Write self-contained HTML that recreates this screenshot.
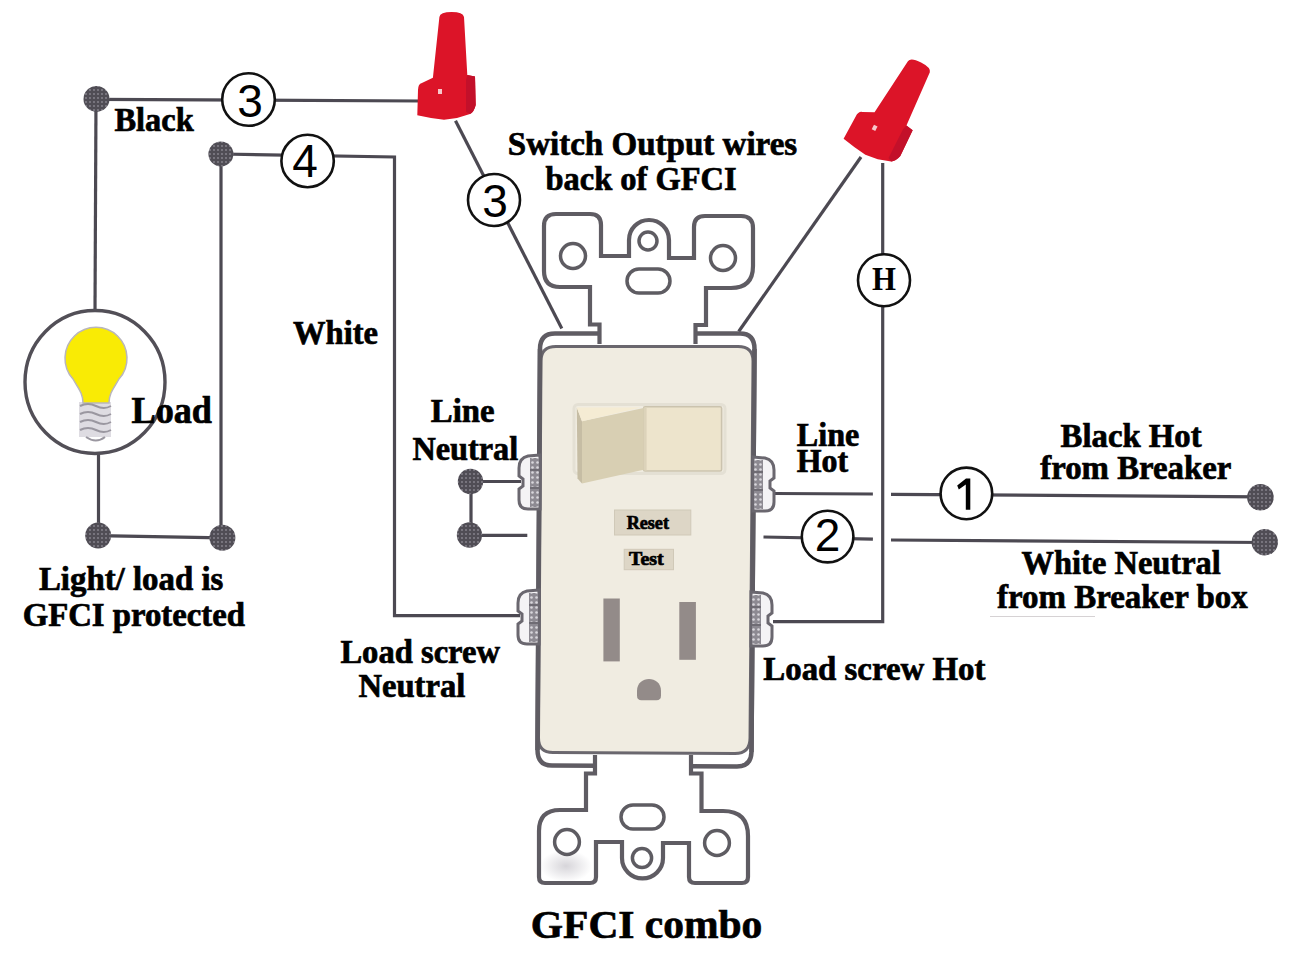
<!DOCTYPE html>
<html><head><meta charset="utf-8">
<style>
html,body{margin:0;padding:0;background:#fff;width:1297px;height:963px;overflow:hidden}
svg{display:block}
.t{font-family:"Liberation Serif",serif;font-weight:bold;fill:#000;stroke:#000;stroke-width:0.7}
.d{font-family:"Liberation Sans",sans-serif;fill:#000}
.w{stroke:#4c4952;stroke-width:3.2;fill:none}
.dot{fill:url(#ht)}
.nc{fill:#fff;stroke:#111;stroke-width:2.6}
.st{fill:#fff;stroke:#5f5c63;stroke-width:4.2}
</style></head><body>
<svg width="1297" height="963" viewBox="0 0 1297 963">
<defs>
<pattern id="ht" width="4" height="4" patternUnits="userSpaceOnUse">
<rect width="4" height="4" fill="#504d55"/>
<circle cx="2" cy="2" r="0.9" fill="#8a8790"/>
</pattern>
<pattern id="ht2" width="5" height="5" patternUnits="userSpaceOnUse">
<rect width="5" height="5" fill="#8d8a92"/>
<circle cx="2.5" cy="2.5" r="1.3" fill="#d9d7dc"/>
</pattern>
<radialGradient id="smg" cx="0.5" cy="0.5" r="0.5">
<stop offset="0" stop-color="#c9c7cd" stop-opacity="0.75"/>
<stop offset="1" stop-color="#c9c7cd" stop-opacity="0"/>
</radialGradient>
</defs>
<!-- WIRES -->
<g class="w">
<path d="M96.5 99.3 L422 101"/>
<path d="M96 99 L95 310"/>
<path d="M98.5 454 L98.5 535.6 L222.4 537.8"/>
<path d="M221 154 L221 537"/>
<path d="M221 154 L394.5 157 L394.5 615.6 L520 615.6"/>
<path d="M455.5 120.7 L561.8 328.6"/>
<path d="M861 157 L738.7 331.5"/>
<path d="M882.7 163 L882.7 621.6 L773 621.6"/>
<path d="M775 493.5 L872.9 494"/>
<path d="M891 494.4 L1260.5 496.8"/>
<path d="M763.5 537 L872.9 539.2"/>
<path d="M891 540 L1265 542.5"/>
<path d="M470.5 481.5 L521 481.5"/>
<path d="M469.5 535.3 L527.3 535.3"/>
<path d="M471 481 L471 535"/>
</g>
<!-- DOTS -->
<g class="dot">
<circle cx="96.5" cy="98.9" r="13"/>
<circle cx="220.9" cy="154" r="12.5"/>
<circle cx="98.2" cy="535.6" r="13"/>
<circle cx="222.4" cy="537.8" r="13"/>
<circle cx="470.5" cy="481.5" r="12.7"/>
<circle cx="469.5" cy="535" r="12.7"/>
<circle cx="1260.4" cy="497.3" r="13.3"/>
<circle cx="1264.8" cy="542.2" r="13.2"/>
</g>
<!-- LAMP -->
<ellipse cx="95" cy="382" rx="70" ry="71.5" fill="#fff" stroke="#524f57" stroke-width="3.4"/>
<rect x="79" y="402" width="32" height="35" fill="#dedce2"/><path d="M83 403 C83 393 78 388 73 379 A31 31 0 1 1 119 379 C114 388 109 393 109 403 Z" fill="#f9eb05" stroke="#b9b6bc" stroke-width="1.5"/>
<g fill="none" stroke="#9a97a0" stroke-width="2">
<path d="M80 406 Q88 402 96 406 T111 406"/>
<path d="M80 414 Q88 410 96 414 T111 414"/>
<path d="M80 422 Q88 418 96 422 T111 422"/>
<path d="M80 430 Q88 426 96 430 T111 430"/>
<path d="M86 437 Q96 444 105 437"/>
</g>

<!-- BODY -->
<path d="M555 333.5 L740 333.5 Q754.5 333.5 754.5 349 L751.5 752 Q751 766.5 737 766.5 L552 765.5 Q537.5 765.5 537.5 750 L540 349 Q540 333.5 555 333.5 Z" fill="#fff" stroke="#5f5c63" stroke-width="4.5"/>
<path d="M556 346.5 L738 346.5 Q753 346.5 753 361 L750 738 Q750 753.5 735 753.5 L553 752.5 Q538.5 752.5 538.5 738 L541 361 Q541 346.5 556 346.5 Z" fill="#f0ece1" stroke="#6a676e" stroke-width="3"/>
<path d="M540 349 L537.5 750 M754.5 349 L751.5 752" stroke="#5f5c63" stroke-width="4.5" fill="none"/>

<!-- TOP STRAP -->
<path class="st" d="M599.5 344 L599.5 324.5 L590 324.5 L590 287 L560 287 Q544 287 544 271 L544 226 Q544 214 556 214 L590 214 Q601 214 601 225 L601 256 L629 256 L629 240 A20 20 0 0 1 669 240 L669 258 L694 258 L694 227 Q694 216 705 216 L741 216 Q753 216 753 228 L753 266 Q753 288 731 288 L706 288 L706 325 L695.5 325 L695.5 344"/>
<circle cx="573" cy="256" r="12.5" fill="none" stroke="#5e5c62" stroke-width="3.5"/>
<circle cx="723" cy="258" r="12.5" fill="none" stroke="#5e5c62" stroke-width="3.5"/>
<circle cx="648" cy="241" r="9" fill="none" stroke="#5e5c62" stroke-width="3.5"/>
<rect x="627" y="269" width="43" height="24" rx="12" fill="none" stroke="#5e5c62" stroke-width="3.5"/>

<!-- BOTTOM STRAP -->
<path class="st" d="M595 755 L595 773.5 L586 773.5 L586 810 L560 810 Q539 810 539 831 L539 877 Q539 883 545 883 L590 883 Q596 883 596 877 L596 842 L622 842 L622 858 A20.5 20.5 0 0 0 663 858 L663 843 L689 843 L689 877 Q689 883 695 883 L742 883 Q748 883 748 877 L748 836 Q748 811 723 811 L701.5 811 L701.5 773.5 L691 773.5 L691 755"/>
<ellipse cx="566" cy="866" rx="26" ry="16" fill="url(#smg)"/>
<circle cx="567" cy="842" r="12.4" fill="none" stroke="#5e5c62" stroke-width="3.5"/>
<circle cx="717" cy="843" r="12.4" fill="none" stroke="#5e5c62" stroke-width="3.5"/>
<circle cx="642" cy="858" r="9.6" fill="none" stroke="#5e5c62" stroke-width="3.5"/>
<rect x="621" y="805" width="43" height="24" rx="12" fill="none" stroke="#5e5c62" stroke-width="3.5"/>
<!-- SCREWS -->
<g id="scrL">
<path d="M540 455 L528 456 Q519 458 519 468 L519 476 L523 479 L523 486 L519 489 L519 500 Q519 509 528 509 L540 509 Z" fill="#f4f3f5" stroke="#6a676f" stroke-width="3"/>
<rect x="530" y="458" width="9" height="49" fill="url(#ht2)"/>
<path d="M530 470 H539 M530 488 H539" stroke="#6f6c74" stroke-width="2"/>
</g>
<use href="#scrL" transform="translate(-1 135)"/>
<g transform="translate(1293 2) scale(-1 1)">
<use href="#scrL" transform="translate(0 0)"/>
</g>
<g transform="translate(1291 137) scale(-1 1)">
<use href="#scrL"/>
</g>
<!-- SWITCH -->
<rect x="574" y="404.5" width="151" height="69" rx="4" fill="none" stroke="#e4e0d4" stroke-width="3"/>
<rect x="643.6" y="406.8" width="78" height="64.2" rx="1.5" fill="#ede4cc" stroke="#cbc3ae" stroke-width="1.6"/>
<rect x="643.6" y="407.5" width="3" height="63" fill="#dcd3ba"/>
<path d="M582 421.2 L643.6 408 L643.6 469.7 L582 483.5 Z" fill="#d8cfb3"/>
<path d="M576.8 407.5 L582 421.2 L582 483.5 L577.5 478.5 Z" fill="#c6bda4"/>
<path d="M576.8 407.5 L640.4 407.5 L582 421.2 Z" fill="#f5ecd4"/>
<!-- BUTTONS -->
<rect x="614.5" y="510" width="76.3" height="25" fill="#ddd6c6" stroke="#d0c9b8" stroke-width="1"/>
<rect x="624.2" y="549.3" width="49.3" height="20.4" fill="#ddd6c6" stroke="#d0c9b8" stroke-width="1"/>
<text class="t" x="626.8" y="529.2" font-size="18" textLength="42.1" lengthAdjust="spacingAndGlyphs">Reset</text>
<text class="t" x="629" y="565" font-size="19" textLength="34.7" lengthAdjust="spacingAndGlyphs">Test</text>

<!-- OUTLET -->
<rect x="603.4" y="598.5" width="16.4" height="62.9" fill="#938b89"/>
<rect x="679.3" y="602" width="16.6" height="57.8" fill="#938b89"/>
<path d="M637 691 C637 683 643 679.1 649 679.1 C655 679.1 661 683 661 691 L661 695.5 Q661 700.3 656.5 700.3 L641.5 700.3 Q637 700.3 637 695.5 Z" fill="#938b89"/>

<!-- WIRE NUTS -->
<g id="nut">
<path d="M439.4 17 Q440 12.1 451.7 12.1 Q463 12.1 464 17 L467.3 75 L475 76.4 L475.7 105 Q474 112 470 114 L457 118 L444 119.8 L431 118 L417.3 115.3 L418 90 Q418 84 421.9 82.9 L432.9 77.7 Z" fill="#dc1428"/>
<path d="M467.3 75 L475 76.4 L475.7 105 Q474 112 470 114 L466 112 L466 80 Z" fill="#c3102a"/>
<rect x="438" y="89" width="4" height="5" fill="#f6c8cc"/>
</g>
<use href="#nut" transform="translate(890.5 118.9) rotate(27) translate(-450.1 -76.35)"/>

<!-- NUMBER CIRCLES -->
<circle class="nc" cx="248.5" cy="99.5" r="26.3"/>
<circle class="nc" cx="307.6" cy="161" r="26.2"/>
<circle class="nc" cx="494" cy="200" r="26"/>
<circle class="nc" cx="884" cy="280.2" r="26"/>
<circle class="nc" cx="966.4" cy="493.4" r="25.8"/>
<circle class="nc" cx="827.6" cy="536.6" r="25.8"/>
<text class="d" x="250" y="117" font-size="46" text-anchor="middle">3</text>
<text class="d" x="305" y="177" font-size="46" text-anchor="middle">4</text>
<text class="d" x="495" y="217" font-size="46" text-anchor="middle">3</text>
<path d="M957.2 485.6 L966 478.6 L970.3 478.6 L970.3 509.7 L965.8 509.7 L965.8 484.6 L958.8 489.4 Z" fill="#000"/>
<text class="d" x="827.5" y="550.6" font-size="46" text-anchor="middle">2</text>
<text x="872" y="289.8" font-size="34" textLength="24" lengthAdjust="spacingAndGlyphs" style="font-family:'Liberation Serif',serif;font-weight:bold" fill="#000">H</text>

<path d="M990 616.5 L1095 616.5" stroke="#d6d2d4" stroke-width="1.2"/>
<!-- LABELS -->
<text class="t" x="114.4" y="130.5" font-size="33" textLength="79.3" lengthAdjust="spacingAndGlyphs">Black</text>
<text class="t" x="507.8" y="154.5" font-size="33" textLength="289.4" lengthAdjust="spacingAndGlyphs">Switch Output wires</text>
<text class="t" x="545.5" y="190.3" font-size="33" textLength="191.2" lengthAdjust="spacingAndGlyphs">back of GFCI</text>
<text class="t" x="293" y="344" font-size="33" textLength="85" lengthAdjust="spacingAndGlyphs">White</text>
<text class="t" x="131.5" y="423" font-size="37" textLength="80.5" lengthAdjust="spacingAndGlyphs">Load</text>
<text class="t" x="430.8" y="421.8" font-size="33" textLength="63.7" lengthAdjust="spacingAndGlyphs">Line</text>
<text class="t" x="412.4" y="459.6" font-size="33" textLength="105.8" lengthAdjust="spacingAndGlyphs">Neutral</text>
<text class="t" x="796.8" y="445.6" font-size="33" textLength="62.5" lengthAdjust="spacingAndGlyphs">Line</text>
<text class="t" x="796.8" y="472.4" font-size="33" textLength="51.4" lengthAdjust="spacingAndGlyphs">Hot</text>
<text class="t" x="1060.6" y="446.7" font-size="33" textLength="141" lengthAdjust="spacingAndGlyphs">Black Hot</text>
<text class="t" x="1040.3" y="479.4" font-size="33" textLength="191.1" lengthAdjust="spacingAndGlyphs">from Breaker</text>
<text class="t" x="1021.6" y="574.3" font-size="33" textLength="199.2" lengthAdjust="spacingAndGlyphs">White Neutral</text>
<text class="t" x="997.1" y="607.5" font-size="33" textLength="250.6" lengthAdjust="spacingAndGlyphs">from Breaker box</text>
<text class="t" x="38.9" y="589.6" font-size="33" textLength="184.5" lengthAdjust="spacingAndGlyphs">Light/ load is</text>
<text class="t" x="22.7" y="626.3" font-size="33" textLength="222.3" lengthAdjust="spacingAndGlyphs">GFCI protected</text>
<text class="t" x="340.4" y="662.9" font-size="33" textLength="159.6" lengthAdjust="spacingAndGlyphs">Load screw</text>
<text class="t" x="358.4" y="696.6" font-size="33" textLength="106.9" lengthAdjust="spacingAndGlyphs">Neutral</text>
<text class="t" x="763.3" y="679.8" font-size="33" textLength="222.1" lengthAdjust="spacingAndGlyphs">Load screw Hot</text>
<text class="t" x="530.8" y="938.1" font-size="41" textLength="231.5" lengthAdjust="spacingAndGlyphs">GFCI combo</text>
</svg>
</body></html>
